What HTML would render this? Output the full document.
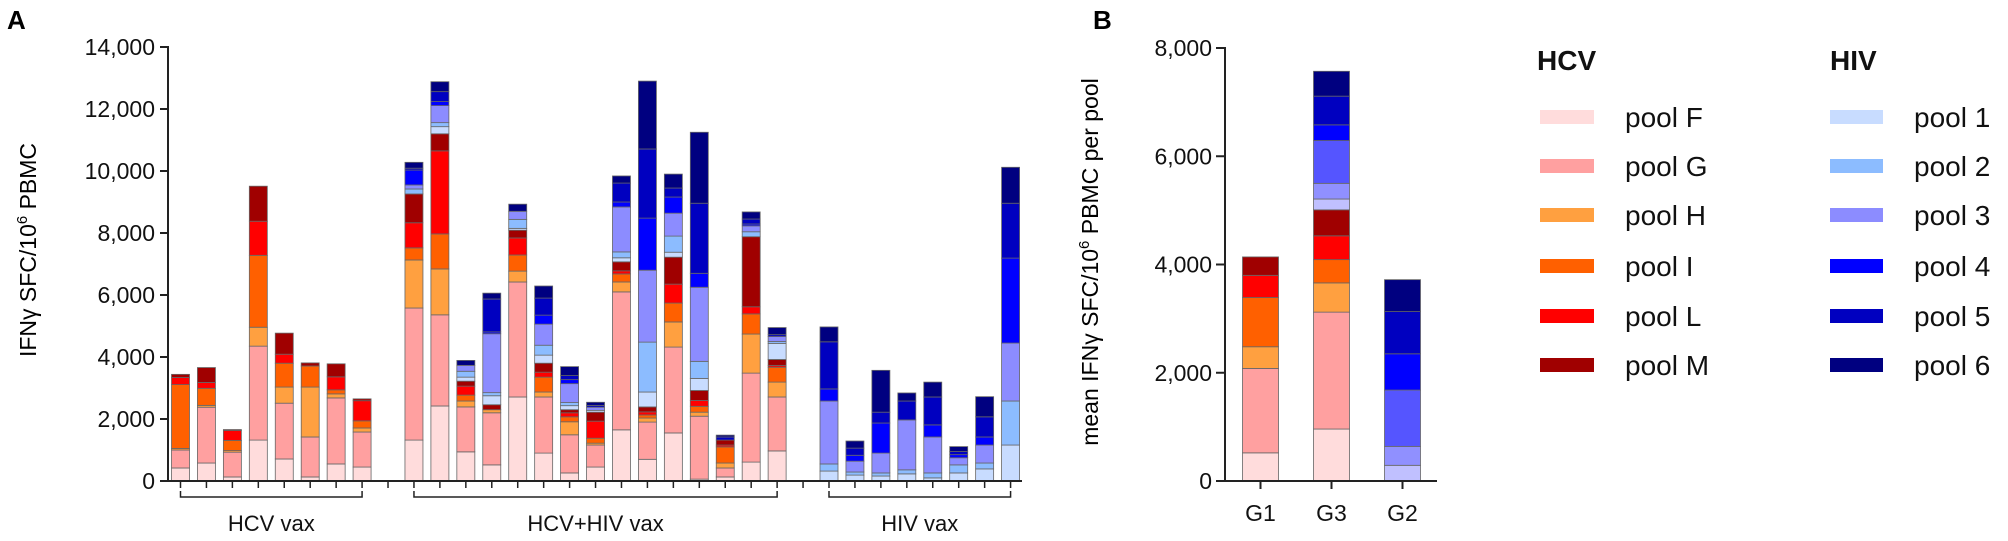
<!DOCTYPE html>
<html><head><meta charset="utf-8">
<style>
html,body{margin:0;padding:0;background:#fff;}
svg{display:block;font-family:"Liberation Sans",Arial,sans-serif;}
</style></head>
<body>
<svg id="chart" width="2008" height="541" viewBox="0 0 2008 541" xmlns="http://www.w3.org/2000/svg">
  <text x="7" y="29" font-size="26" font-weight="bold">A</text>
  <text x="1093" y="29" font-size="26" font-weight="bold">B</text>
  <text transform="translate(36,250) rotate(-90)" text-anchor="middle" font-size="23">IFNγ SFC/10<tspan font-size="15" dy="-9">6</tspan><tspan dy="9"> PBMC</tspan></text>
  <text transform="translate(1098,262) rotate(-90)" text-anchor="middle" font-size="23">mean IFNγ SFC/10<tspan font-size="15" dy="-9">6</tspan><tspan dy="9"> PBMC per pool</tspan></text>
  <g id="gA"></g>
  <g id="gB"></g>
  <g id="legend"></g>
</svg>
<script>
// ---------- Panel A data ----------
const barSlots = [0,1,2,3,4,5,6,7, 9,10,11,12,13,14,15,16,17,18,19,20,21,22,23, 25,26,27,28,29,30,31,32];
const poolF = [420,580,130,1320,710,130,550,450, 1320,2420,940,520,2710,900,260,450,1650,700,1550,60,130,610,970, 0,0,0,0,0,0,0,0];
const poolG = [580,1800,800,3030,1800,1290,2130,1130, 4260,2940,1450,1680,3710,1810,1230,710,4450,1200,2770,2030,290,2870,1740, 0,0,0,0,0,0,0,0];
const poolH = [50,60,50,610,520,1610,130,130, 1550,1480,190,100,350,160,420,60,320,130,810,130,160,1260,480, 0,0,0,0,0,0,0,0];
const poolI = [2060,550,330,2320,770,680,130,230, 390,1130,190,0,520,480,160,160,260,100,610,190,520,650,480, 0,0,0,0,0,0,0,0];
const poolL = [230,190,320,1100,290,0,420,650, 810,2680,290,0,550,160,130,550,100,100,610,190,60,230,60, 0,0,0,0,0,0,0,0];
const poolM = [100,480,30,1130,680,100,420,60, 930,550,160,160,250,290,100,290,290,160,870,320,160,2260,190, 0,0,0,0,0,0,0,0];
const pool1 = [0,0,0,0,0,0,0,0, 0,230,130,290,60,260,130,60,130,480,160,390,0,0,520, 320,190,160,230,100,260,390,1160];
const pool2 = [0,0,0,0,0,0,0,0, 160,130,190,100,290,320,100,0,190,1610,520,550,0,160,60, 230,100,100,130,160,260,190,1420];
const pool3 = [0,0,0,0,0,0,0,0, 130,550,190,1900,260,680,610,100,1450,2320,740,2390,0,190,160, 2030,350,640,1610,1160,230,580,1870];
const pool4 = [0,0,0,0,0,0,0,0, 480,130,0,60,0,290,130,0,160,1680,520,450,0,60,0, 390,190,970,0,390,100,260,2740];
const pool5 = [0,0,0,0,0,0,0,0, 60,320,0,1060,0,550,130,60,610,2230,290,2260,100,160,60, 1520,230,350,610,900,100,650,1770];
const pool6 = [0,0,0,0,0,0,0,0, 190,320,160,190,230,390,290,100,230,2190,450,2290,60,230,230, 480,230,1350,260,480,160,650,1160];
const yTicksA = [0,2000,4000,6000,8000,10000,12000,14000];
const groupNames = ["HCV vax","HCV+HIV vax","HIV vax"];
const groupStart = [0,9,25];
const groupEnd = [7,23,32];
// ---------- Panel B data ----------
const groupsB = ["G1","G3","G2"];
const bF = [520,960,0];
const bG = [1560,2160,0];
const bH = [400,540,0];
const bI = [910,430,0];
const bL = [410,440,0];
const bM = [340,480,0];
const b1 = [0,200,290];
const b2 = [0,290,350];
const b3 = [0,790,1040];
const b4 = [0,290,670];
const b5 = [0,530,780];
const b6 = [0,460,590];
const yTicksB = [0,2000,4000,6000,8000];

const NS = "http://www.w3.org/2000/svg";
function mk(tag, attrs, parent){ const e=document.createElementNS(NS,tag); for(const k in attrs) e.setAttribute(k,attrs[k]); parent.appendChild(e); return e; }
const fmt = v => v.toLocaleString("en-US");

const colorsA = ["#ffdcdc","#ffa0a0","#ffa040","#ff6000","#ff0000","#a00000","#c8dcff","#8cbcff","#8c8cff","#0000ff","#0000c0","#000080"];
const colorsB = ["#ffdcdc","#ffa0a0","#ffa040","#ff6000","#ff0000","#a00000","#c0c0ff","#9090ff","#5555ff","#0000ff","#0000c0","#000080"];
const poolNames = ["pool-f","pool-g","pool-h","pool-i","pool-l","pool-m","pool-1","pool-2","pool-3","pool-4","pool-5","pool-6"];

// ---------- Panel A ----------
const gA = document.getElementById("gA");
const A0 = 481, Apx = 434/14000;
const yA = v => A0 - v*Apx;
const xA = s => 180.5 + 25.94*s;
const seriesA = [poolF,poolG,poolH,poolI,poolL,poolM,pool1,pool2,pool3,pool4,pool5,pool6];
barSlots.forEach((slot,bi)=>{
  let acc=0;
  seriesA.forEach((ser,si)=>{
    const v=ser[bi]; if(!v) return;
    const r=mk("rect",{x:xA(slot)-9,y:yA(acc+v),width:18,height:v*Apx,fill:colorsA[si],stroke:"#666","stroke-width":0.8},gA);
    
    
    acc+=v;
  });
});
let ax=mk("line",{x1:168,y1:yA(14000)-1,x2:168,y2:A0,stroke:"#222","stroke-width":2},gA);


let xl=mk("line",{x1:167,y1:A0,x2:1022,y2:A0,stroke:"#222","stroke-width":2},gA);


yTicksA.forEach(t=>{
  const l=mk("line",{x1:160,y1:yA(t),x2:168,y2:yA(t),stroke:"#222","stroke-width":2},gA);
  
  
  const tx=mk("text",{x:155,y:yA(t)+8,"text-anchor":"end","font-size":23,fill:"#111"},gA);
  tx.textContent=fmt(t);
  
  
});
for(let s=0;s<=32;s++){
  const l=mk("line",{x1:xA(s),y1:A0,x2:xA(s),y2:A0+7,stroke:"#222","stroke-width":1.5},gA);
  
  
}
groupNames.forEach((g,i)=>{
  const x1=xA(groupStart[i]), x2=xA(groupEnd[i]);
  const p=mk("path",{d:`M${x1},491 L${x1},497 L${x2},497 L${x2},491`,fill:"none",stroke:"#222","stroke-width":1.5},gA);
  
  
  const t=mk("text",{x:(x1+x2)/2,y:531,"text-anchor":"middle","font-size":22,fill:"#111"},gA);
  t.textContent=g;
  
  
});

// ---------- Panel B ----------
const gB=document.getElementById("gB");
const B0=481, Bpx=433/8000;
const yB = v => B0 - v*Bpx;
const xB = i => 1260.5 + 71*i;
const seriesB=[bF,bG,bH,bI,bL,bM,b1,b2,b3,b4,b5,b6];
groupsB.forEach((g,gi)=>{
  let acc=0;
  seriesB.forEach((ser,si)=>{
    const v=ser[gi]; if(!v) return;
    const r=mk("rect",{x:xB(gi)-18,y:yB(acc+v),width:36,height:v*Bpx,fill:colorsB[si],stroke:"#666","stroke-width":0.8},gB);
    
    
    acc+=v;
  });
  const tk=mk("line",{x1:xB(gi),y1:B0,x2:xB(gi),y2:B0+8,stroke:"#222","stroke-width":2},gB);
  
  
  const t=mk("text",{x:xB(gi),y:521,"text-anchor":"middle","font-size":23,fill:"#111"},gB);
  t.textContent=g;
  
  
});
let bya=mk("line",{x1:1225,y1:yB(8000)-1,x2:1225,y2:B0,stroke:"#222","stroke-width":2},gB);


let bxa=mk("line",{x1:1224,y1:B0,x2:1437,y2:B0,stroke:"#222","stroke-width":2},gB);


yTicksB.forEach(t=>{
  const l=mk("line",{x1:1216,y1:yB(t),x2:1225,y2:yB(t),stroke:"#222","stroke-width":2},gB);
  
  
  const tx=mk("text",{x:1212,y:yB(t)+8,"text-anchor":"end","font-size":23,fill:"#111"},gB);
  tx.textContent=fmt(t);
  
  
});

// ---------- Legend ----------
const lg=document.getElementById("legend");
const legHcv=["pool F","pool G","pool H","pool I","pool L","pool M"];
const legHiv=["pool 1","pool 2","pool 3","pool 4","pool 5","pool 6"];
const rowY=[117,166,215,266,316,365];
let h1=mk("text",{x:1537,y:70,"font-size":28,"font-weight":"bold",fill:"#111"},lg); h1.textContent="HCV";


let h2=mk("text",{x:1830,y:70,"font-size":28,"font-weight":"bold",fill:"#111"},lg); h2.textContent="HIV";


rowY.forEach((y,i)=>{
  const r1=mk("rect",{x:1540,y:y-7,width:54,height:14,fill:colorsA[i]},lg);
  
  
  const t1=mk("text",{x:1625,y:y+10,"font-size":28,fill:"#111"},lg); t1.textContent=legHcv[i];
  
  
  const r2=mk("rect",{x:1830,y:y-7,width:53,height:14,fill:colorsA[i+6]},lg);
  
  
  const t2=mk("text",{x:1914,y:y+10,"font-size":28,fill:"#111"},lg); t2.textContent=legHiv[i];
  
  
});
</script>
</body></html>
